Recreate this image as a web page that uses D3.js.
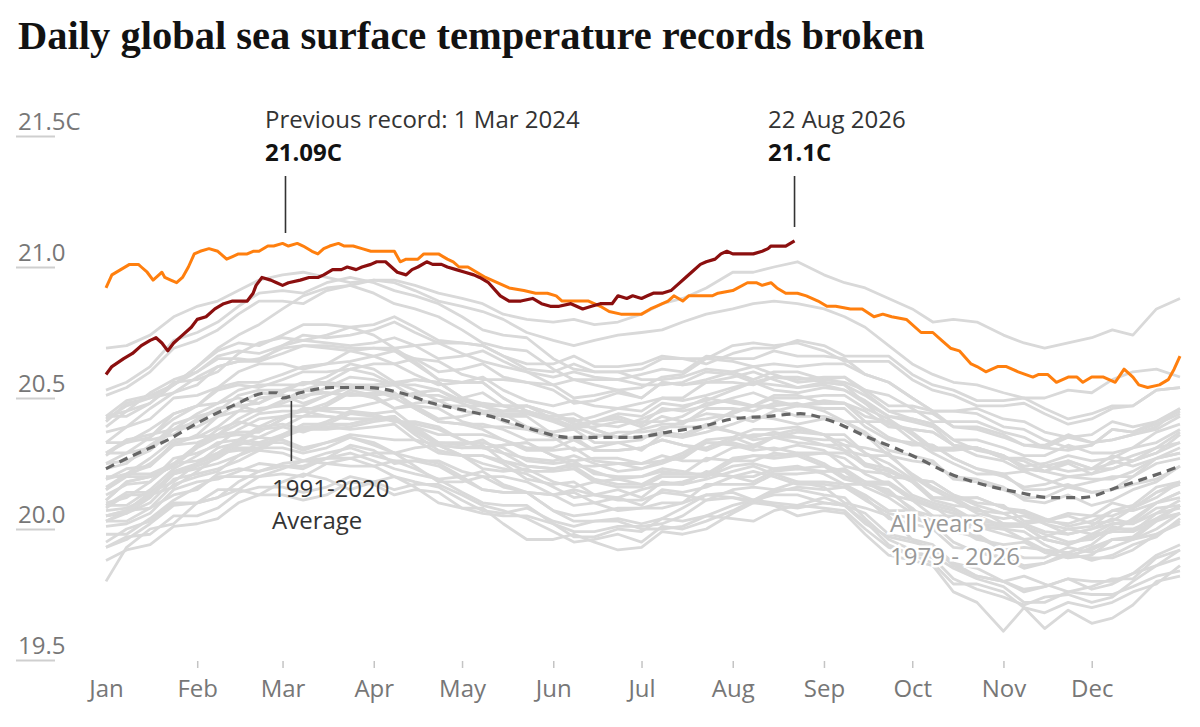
<!DOCTYPE html>
<html><head><meta charset="utf-8">
<script src="https://cdn.jsdelivr.net/npm/d3@7"></script>
<style>
body{margin:0;background:#fff;}
svg{display:block;font-family:"Open Sans",sans-serif;}
</style></head><body>
<svg id="chart" width="1200" height="727"></svg>
<script>
const titleText = "Daily global sea surface temperature records broken";
const monthLabels = ["Jan","Feb","Mar","Apr","May","Jun","Jul","Aug","Sep","Oct","Nov","Dec"];
const monthStartDays = [0,31,60,91,121,152,182,213,244,274,305,335];
const yTicks = [19.5,20.0,20.5,21.0,21.5];
const yTickLabels = ["19.5","20.0","20.5","21.0","21.5C"];

// day-of-year sample grid for the grey years
const gridDays = [0,7,15,23,31,38,45,52,60,67,75,83,91,98,105,113,121,128,135,143,152,159,166,174,182,189,196,204,213,220,227,235,244,251,258,266,274,281,288,296,305,312,319,327,335,342,349,357,365];
const grayYears = [1979,1980,1981,1982,1983,1984,1985,1986,1987,1988,1989,1990,1991,1992,1993,1994,1995,1996,1997,1998,1999,2000,2001,2002,2003,2004,2005,2006,2007,2008,2009,2010,2011,2012,2013,2014,2015,2016,2017,2018,2019,2020,2021,2022,2023,2025];
const grayValues = [
[19.80,19.93,20.00,20.02,20.10,20.15,20.15,20.13,20.18,20.21,20.19,20.15,20.18,20.20,20.16,20.10,20.08,20.08,20.02,19.96,19.96,19.98,19.95,19.92,19.93,19.99,19.98,20.00,20.06,20.10,20.09,20.05,20.07,20.06,19.98,19.90,19.88,19.86,19.76,19.72,19.61,19.70,19.62,19.69,19.64,19.66,19.71,19.80,19.82],
[20.01,20.02,20.06,20.15,20.18,20.19,20.22,20.25,20.24,20.23,20.27,20.29,20.26,20.23,20.21,20.19,20.14,20.10,20.09,20.09,20.02,19.99,19.99,20.01,20.01,20.02,20.05,20.11,20.12,20.11,20.15,20.15,20.13,20.12,20.04,19.96,19.92,19.89,19.81,19.77,19.74,19.71,19.74,19.75,19.72,19.74,19.80,19.86,19.89],
[19.93,19.97,19.98,20.05,20.05,20.08,20.14,20.16,20.16,20.14,20.16,20.20,20.18,20.15,20.17,20.17,20.13,20.09,20.07,20.04,19.99,19.95,19.96,19.98,19.95,20.01,20.00,20.03,20.07,20.11,20.10,20.09,20.12,20.09,20.03,19.94,19.90,19.87,19.79,19.79,19.76,19.70,19.68,19.72,19.70,19.72,19.76,19.79,19.86],
[20.03,20.03,20.08,20.13,20.15,20.21,20.23,20.22,20.25,20.26,20.25,20.24,20.24,20.26,20.23,20.19,20.20,20.22,20.17,20.14,20.13,20.14,20.10,20.07,20.08,20.10,20.10,20.17,20.17,20.17,20.21,20.21,20.22,20.22,20.18,20.14,20.08,20.01,19.99,19.98,19.92,19.93,19.92,19.91,19.94,20.00,20.00,20.04,20.09],
[20.11,20.18,20.20,20.24,20.32,20.38,20.41,20.39,20.43,20.45,20.43,20.42,20.42,20.42,20.36,20.30,20.28,20.28,20.25,20.19,20.17,20.18,20.13,20.11,20.11,20.14,20.13,20.11,20.15,20.16,20.15,20.18,20.16,20.10,20.08,20.05,19.96,19.91,19.87,19.82,19.80,19.82,19.79,19.76,19.78,19.81,19.81,19.89,19.92],
[19.93,19.96,20.02,20.09,20.10,20.12,20.15,20.20,20.21,20.20,20.25,20.27,20.24,20.20,20.18,20.16,20.11,20.07,20.06,20.08,20.03,20.01,20.03,20.03,20.00,20.00,20.01,20.05,20.04,20.03,20.07,20.09,20.08,20.07,20.00,19.93,19.90,19.90,19.85,19.81,19.78,19.72,19.72,19.76,19.75,19.75,19.78,19.82,19.84],
[19.88,19.92,19.94,20.01,20.02,20.04,20.10,20.13,20.13,20.11,20.13,20.18,20.17,20.13,20.15,20.14,20.08,20.06,20.05,20.05,20.02,19.97,19.97,20.00,19.99,20.04,20.03,20.05,20.09,20.11,20.09,20.08,20.10,20.09,20.06,19.98,19.96,19.94,19.87,19.85,19.80,19.77,19.78,19.81,19.77,19.79,19.83,19.86,19.92],
[19.98,19.98,20.04,20.11,20.16,20.20,20.20,20.20,20.23,20.26,20.27,20.27,20.29,20.29,20.24,20.18,20.18,20.20,20.16,20.14,20.13,20.15,20.13,20.12,20.15,20.17,20.17,20.22,20.20,20.20,20.23,20.23,20.24,20.22,20.16,20.12,20.06,20.00,20.00,20.01,19.98,19.96,19.92,19.89,19.90,19.96,19.96,20.00,20.06],
[20.11,20.18,20.20,20.24,20.32,20.36,20.37,20.37,20.42,20.46,20.45,20.44,20.44,20.45,20.39,20.36,20.36,20.36,20.34,20.31,20.31,20.34,20.30,20.30,20.31,20.34,20.32,20.30,20.34,20.36,20.36,20.38,20.36,20.32,20.31,20.29,20.20,20.15,20.11,20.06,20.04,20.05,20.02,19.98,20.00,20.02,20.02,20.08,20.09],
[20.07,20.08,20.12,20.21,20.24,20.27,20.32,20.35,20.34,20.31,20.33,20.35,20.32,20.29,20.27,20.25,20.20,20.15,20.14,20.14,20.07,20.03,20.03,20.04,20.02,20.04,20.08,20.13,20.14,20.11,20.13,20.13,20.10,20.09,20.02,19.97,19.95,19.93,19.86,19.82,19.80,19.76,19.78,19.81,19.80,19.80,19.83,19.90,19.94],
[19.95,20.00,20.03,20.10,20.10,20.12,20.18,20.22,20.24,20.24,20.27,20.32,20.30,20.25,20.26,20.26,20.22,20.20,20.20,20.18,20.13,20.09,20.10,20.12,20.09,20.15,20.14,20.16,20.20,20.22,20.20,20.17,20.17,20.16,20.12,20.04,20.02,20.00,19.93,19.92,19.89,19.86,19.87,19.91,19.88,19.90,19.94,19.97,20.04],
[20.09,20.09,20.15,20.23,20.28,20.33,20.34,20.33,20.36,20.39,20.39,20.40,20.42,20.42,20.38,20.32,20.31,20.32,20.26,20.24,20.23,20.25,20.22,20.19,20.20,20.22,20.21,20.27,20.26,20.26,20.29,20.28,20.29,20.27,20.21,20.17,20.11,20.05,20.05,20.05,20.01,20.01,19.98,19.95,19.96,20.01,19.99,20.03,20.09],
[20.08,20.13,20.13,20.16,20.22,20.28,20.31,20.31,20.36,20.40,20.40,20.40,20.42,20.43,20.37,20.33,20.33,20.33,20.31,20.26,20.25,20.26,20.21,20.20,20.20,20.23,20.22,20.20,20.24,20.25,20.23,20.24,20.21,20.17,20.17,20.17,20.11,20.08,20.06,20.01,20.00,19.99,19.94,19.90,19.92,19.96,19.97,20.04,20.06],
[20.05,20.06,20.10,20.19,20.21,20.23,20.26,20.30,20.29,20.26,20.29,20.31,20.28,20.26,20.26,20.24,20.19,20.15,20.14,20.14,20.07,20.05,20.06,20.08,20.08,20.08,20.10,20.13,20.12,20.10,20.14,20.16,20.15,20.16,20.11,20.06,20.04,20.02,19.95,19.91,19.89,19.85,19.87,19.90,19.89,19.89,19.92,19.98,20.02],
[20.03,20.07,20.08,20.17,20.20,20.22,20.28,20.31,20.31,20.29,20.31,20.35,20.33,20.29,20.31,20.32,20.28,20.25,20.23,20.21,20.16,20.12,20.13,20.15,20.12,20.18,20.17,20.19,20.22,20.24,20.21,20.18,20.18,20.17,20.13,20.07,20.07,20.05,19.99,19.97,19.92,19.89,19.89,19.93,19.91,19.93,19.96,19.98,20.03],
[20.05,20.07,20.14,20.21,20.25,20.31,20.33,20.32,20.35,20.38,20.38,20.39,20.41,20.42,20.39,20.33,20.32,20.34,20.29,20.27,20.26,20.28,20.25,20.22,20.23,20.26,20.27,20.33,20.32,20.30,20.31,20.29,20.29,20.29,20.25,20.23,20.18,20.12,20.12,20.12,20.08,20.06,20.02,20.00,20.01,20.07,20.07,20.10,20.14],
[20.15,20.20,20.20,20.24,20.31,20.35,20.36,20.35,20.39,20.43,20.43,20.42,20.42,20.43,20.37,20.32,20.31,20.31,20.29,20.24,20.23,20.24,20.19,20.17,20.17,20.21,20.21,20.21,20.27,20.28,20.27,20.28,20.24,20.19,20.17,20.15,20.07,20.03,20.01,19.96,19.94,19.95,19.91,19.89,19.93,19.96,19.96,20.03,20.06],
[20.03,20.06,20.12,20.21,20.23,20.25,20.28,20.33,20.33,20.30,20.33,20.36,20.35,20.34,20.34,20.32,20.28,20.23,20.22,20.23,20.18,20.16,20.18,20.19,20.17,20.17,20.18,20.21,20.20,20.18,20.22,20.23,20.22,20.23,20.18,20.13,20.11,20.09,20.03,20.01,20.00,19.96,19.97,20.00,19.98,19.99,20.04,20.10,20.14],
[20.13,20.17,20.18,20.27,20.29,20.32,20.38,20.42,20.43,20.43,20.47,20.52,20.50,20.46,20.48,20.49,20.45,20.44,20.44,20.44,20.41,20.38,20.41,20.44,20.43,20.48,20.47,20.49,20.53,20.56,20.55,20.54,20.56,20.55,20.51,20.45,20.45,20.44,20.39,20.38,20.35,20.32,20.32,20.36,20.33,20.34,20.36,20.38,20.43],
[20.43,20.45,20.52,20.57,20.60,20.65,20.65,20.64,20.67,20.70,20.70,20.69,20.69,20.68,20.63,20.57,20.56,20.56,20.50,20.45,20.42,20.42,20.38,20.35,20.35,20.37,20.36,20.40,20.37,20.34,20.35,20.33,20.32,20.30,20.24,20.22,20.18,20.11,20.09,20.08,20.02,20.02,19.99,19.98,20.00,20.04,20.02,20.06,20.11],
[20.09,20.14,20.14,20.18,20.25,20.29,20.30,20.30,20.35,20.39,20.39,20.38,20.39,20.40,20.34,20.29,20.28,20.28,20.26,20.22,20.22,20.23,20.18,20.16,20.16,20.20,20.20,20.20,20.26,20.28,20.28,20.29,20.25,20.20,20.18,20.18,20.12,20.09,20.07,20.02,20.01,20.01,19.96,19.94,19.98,20.02,20.03,20.10,20.12],
[20.10,20.12,20.18,20.25,20.26,20.29,20.34,20.39,20.40,20.38,20.41,20.45,20.44,20.41,20.40,20.38,20.34,20.31,20.32,20.33,20.28,20.24,20.24,20.25,20.23,20.25,20.28,20.33,20.33,20.31,20.35,20.35,20.32,20.32,20.25,20.20,20.19,20.18,20.13,20.09,20.06,20.02,20.03,20.06,20.05,20.05,20.08,20.14,20.18],
[20.19,20.23,20.24,20.33,20.35,20.36,20.40,20.44,20.45,20.45,20.48,20.53,20.51,20.46,20.47,20.46,20.41,20.39,20.39,20.38,20.35,20.30,20.31,20.33,20.30,20.36,20.35,20.37,20.40,20.43,20.42,20.40,20.42,20.41,20.37,20.30,20.28,20.26,20.19,20.18,20.15,20.12,20.12,20.16,20.14,20.15,20.17,20.19,20.24],
[20.23,20.25,20.32,20.38,20.41,20.46,20.47,20.48,20.53,20.56,20.56,20.55,20.55,20.56,20.53,20.49,20.50,20.52,20.47,20.44,20.43,20.44,20.40,20.39,20.42,20.45,20.46,20.50,20.48,20.47,20.50,20.50,20.51,20.51,20.46,20.42,20.36,20.30,20.30,20.31,20.27,20.26,20.22,20.20,20.21,20.26,20.24,20.27,20.31],
[20.28,20.34,20.36,20.38,20.44,20.48,20.50,20.48,20.52,20.56,20.55,20.54,20.54,20.55,20.50,20.47,20.47,20.47,20.44,20.39,20.37,20.38,20.33,20.33,20.34,20.39,20.39,20.39,20.45,20.47,20.47,20.48,20.45,20.41,20.41,20.41,20.34,20.29,20.25,20.21,20.21,20.22,20.19,20.16,20.18,20.20,20.20,20.27,20.29],
[20.25,20.26,20.30,20.38,20.39,20.43,20.48,20.52,20.51,20.48,20.51,20.54,20.53,20.51,20.51,20.51,20.48,20.44,20.43,20.43,20.36,20.34,20.35,20.37,20.37,20.38,20.41,20.44,20.43,20.41,20.45,20.47,20.46,20.46,20.39,20.34,20.33,20.32,20.27,20.23,20.20,20.16,20.17,20.20,20.19,20.19,20.22,20.27,20.29],
[20.29,20.33,20.35,20.44,20.47,20.48,20.53,20.55,20.55,20.55,20.58,20.63,20.61,20.56,20.57,20.56,20.50,20.47,20.45,20.45,20.42,20.39,20.41,20.42,20.39,20.43,20.41,20.42,20.44,20.47,20.46,20.43,20.43,20.41,20.36,20.28,20.26,20.25,20.20,20.19,20.16,20.11,20.10,20.13,20.09,20.11,20.15,20.18,20.24],
[20.20,20.20,20.25,20.32,20.36,20.43,20.45,20.45,20.48,20.51,20.52,20.51,20.52,20.52,20.47,20.42,20.43,20.45,20.41,20.38,20.37,20.39,20.36,20.35,20.38,20.40,20.40,20.46,20.46,20.45,20.48,20.47,20.48,20.48,20.43,20.41,20.37,20.31,20.31,20.31,20.27,20.27,20.24,20.22,20.23,20.28,20.26,20.29,20.33],
[20.29,20.34,20.34,20.36,20.42,20.46,20.47,20.45,20.49,20.53,20.52,20.51,20.51,20.52,20.46,20.41,20.40,20.38,20.34,20.30,20.30,20.31,20.26,20.25,20.25,20.28,20.26,20.26,20.31,20.32,20.30,20.32,20.30,20.24,20.22,20.21,20.13,20.10,20.08,20.03,20.02,20.01,19.96,19.94,19.97,19.99,19.99,20.06,20.08],
[20.05,20.07,20.13,20.22,20.25,20.28,20.33,20.38,20.39,20.37,20.40,20.44,20.43,20.41,20.41,20.39,20.34,20.31,20.32,20.33,20.28,20.26,20.27,20.27,20.25,20.26,20.29,20.34,20.35,20.32,20.35,20.37,20.36,20.36,20.29,20.22,20.19,20.18,20.13,20.10,20.09,20.03,20.03,20.05,20.02,20.03,20.08,20.14,20.17],
[20.15,20.21,20.24,20.32,20.33,20.36,20.42,20.46,20.47,20.47,20.51,20.55,20.53,20.50,20.52,20.53,20.49,20.47,20.47,20.47,20.44,20.41,20.43,20.46,20.45,20.50,20.49,20.51,20.54,20.56,20.53,20.52,20.54,20.53,20.49,20.43,20.42,20.40,20.34,20.34,20.31,20.28,20.28,20.32,20.29,20.29,20.31,20.33,20.38],
[20.37,20.39,20.46,20.52,20.55,20.62,20.64,20.65,20.69,20.70,20.69,20.68,20.69,20.69,20.64,20.57,20.56,20.56,20.50,20.45,20.42,20.42,20.38,20.35,20.35,20.36,20.35,20.39,20.37,20.35,20.37,20.35,20.34,20.34,20.29,20.25,20.19,20.12,20.11,20.12,20.08,20.07,20.03,20.02,20.05,20.10,20.08,20.12,20.18],
[20.16,20.21,20.21,20.25,20.32,20.36,20.37,20.37,20.42,20.46,20.46,20.46,20.48,20.50,20.46,20.41,20.40,20.40,20.38,20.34,20.34,20.35,20.30,20.30,20.31,20.34,20.32,20.31,20.35,20.38,20.38,20.39,20.36,20.30,20.28,20.28,20.21,20.16,20.12,20.07,20.06,20.07,20.04,20.01,20.03,20.07,20.09,20.16,20.18],
[20.19,20.21,20.27,20.34,20.35,20.39,20.45,20.50,20.51,20.50,20.54,20.58,20.57,20.55,20.55,20.53,20.48,20.45,20.45,20.47,20.42,20.39,20.39,20.41,20.41,20.41,20.43,20.48,20.49,20.47,20.51,20.51,20.48,20.48,20.41,20.35,20.32,20.32,20.27,20.23,20.21,20.15,20.15,20.17,20.14,20.15,20.20,20.25,20.27],
[20.25,20.29,20.31,20.40,20.43,20.45,20.51,20.53,20.53,20.53,20.56,20.61,20.59,20.55,20.57,20.56,20.50,20.48,20.47,20.47,20.44,20.40,20.41,20.43,20.40,20.46,20.45,20.47,20.50,20.52,20.49,20.47,20.49,20.48,20.45,20.39,20.38,20.37,20.32,20.31,20.28,20.23,20.22,20.26,20.23,20.25,20.28,20.31,20.37],
[20.33,20.33,20.38,20.44,20.47,20.54,20.56,20.56,20.59,20.62,20.63,20.64,20.66,20.68,20.65,20.60,20.61,20.63,20.58,20.56,20.55,20.57,20.55,20.53,20.54,20.58,20.59,20.65,20.64,20.62,20.63,20.62,20.63,20.63,20.59,20.56,20.50,20.45,20.45,20.44,20.39,20.38,20.34,20.31,20.32,20.38,20.37,20.41,20.46],
[20.41,20.48,20.50,20.52,20.58,20.62,20.64,20.64,20.70,20.74,20.73,20.74,20.76,20.79,20.75,20.71,20.71,20.70,20.66,20.63,20.63,20.66,20.62,20.62,20.63,20.66,20.65,20.63,20.67,20.69,20.69,20.72,20.70,20.66,20.66,20.66,20.59,20.55,20.53,20.49,20.49,20.50,20.46,20.42,20.44,20.47,20.47,20.53,20.54],
[20.53,20.56,20.62,20.72,20.75,20.79,20.85,20.90,20.91,20.90,20.94,20.96,20.94,20.91,20.89,20.86,20.81,20.76,20.74,20.73,20.65,20.61,20.60,20.60,20.57,20.57,20.58,20.61,20.60,20.57,20.60,20.60,20.57,20.58,20.52,20.45,20.42,20.40,20.34,20.30,20.28,20.24,20.25,20.28,20.26,20.27,20.31,20.37,20.40],
[20.39,20.45,20.48,20.56,20.57,20.60,20.67,20.71,20.73,20.72,20.74,20.77,20.74,20.69,20.70,20.71,20.67,20.64,20.62,20.60,20.55,20.50,20.51,20.53,20.50,20.56,20.55,20.56,20.58,20.60,20.57,20.54,20.55,20.53,20.48,20.40,20.38,20.37,20.32,20.31,20.28,20.23,20.22,20.25,20.21,20.23,20.26,20.29,20.36],
[20.29,20.29,20.35,20.42,20.47,20.53,20.55,20.54,20.57,20.60,20.60,20.61,20.63,20.63,20.59,20.55,20.56,20.58,20.53,20.49,20.47,20.49,20.47,20.46,20.48,20.50,20.50,20.56,20.56,20.55,20.58,20.57,20.58,20.58,20.53,20.51,20.46,20.41,20.41,20.41,20.37,20.35,20.31,20.30,20.32,20.38,20.37,20.40,20.44],
[20.43,20.49,20.51,20.55,20.62,20.68,20.71,20.70,20.74,20.78,20.78,20.77,20.78,20.81,20.77,20.72,20.71,20.70,20.66,20.61,20.60,20.63,20.60,20.60,20.61,20.65,20.65,20.65,20.70,20.71,20.70,20.71,20.68,20.64,20.64,20.64,20.57,20.53,20.51,20.47,20.47,20.48,20.44,20.40,20.42,20.46,20.47,20.53,20.54],
[20.51,20.54,20.60,20.69,20.72,20.76,20.82,20.87,20.87,20.86,20.91,20.93,20.90,20.86,20.84,20.81,20.76,20.71,20.69,20.68,20.61,20.57,20.57,20.57,20.55,20.55,20.56,20.60,20.59,20.56,20.58,20.58,20.56,20.55,20.48,20.43,20.41,20.39,20.32,20.28,20.26,20.22,20.24,20.26,20.23,20.23,20.26,20.31,20.33],
[20.33,20.39,20.42,20.50,20.51,20.54,20.60,20.63,20.63,20.61,20.63,20.68,20.66,20.63,20.65,20.64,20.59,20.57,20.57,20.56,20.53,20.48,20.49,20.52,20.50,20.56,20.55,20.57,20.60,20.62,20.59,20.56,20.57,20.56,20.53,20.47,20.47,20.45,20.39,20.39,20.36,20.32,20.31,20.35,20.33,20.34,20.36,20.39,20.46],
[20.43,20.43,20.48,20.55,20.60,20.66,20.68,20.67,20.70,20.72,20.71,20.70,20.71,20.73,20.70,20.65,20.66,20.68,20.64,20.60,20.58,20.60,20.58,20.57,20.59,20.61,20.60,20.66,20.65,20.65,20.68,20.66,20.66,20.65,20.59,20.56,20.50,20.45,20.45,20.46,20.42,20.41,20.37,20.35,20.36,20.41,20.39,20.41,20.45],
[20.42,20.47,20.50,20.55,20.62,20.69,20.74,20.78,20.84,20.89,20.92,20.93,20.95,20.95,20.93,20.90,20.88,20.86,20.82,20.80,20.79,20.80,20.78,20.79,20.82,20.86,20.88,20.92,20.98,20.98,21.00,21.02,20.97,20.94,20.92,20.88,20.84,20.79,20.80,20.79,20.74,20.71,20.69,20.71,20.73,20.76,20.74,20.84,20.88],
[20.69,20.70,20.74,20.81,20.85,20.87,20.91,20.95,20.97,20.98,20.96,20.94,20.95,20.94,20.91,20.87,20.85,20.83,20.80,20.75,20.72,20.70,20.72,20.74,20.75,20.76,20.79,20.82,20.84,20.86,20.87,20.86,20.84,20.81,20.77,20.70,20.63,20.59,20.56,20.55,20.52,20.50,20.50,20.53,20.52,20.57,20.60,20.61,20.58]
];

// 1991-2020 average
const avgDays = [0,9,21,32,43,55,58,60,66,77,89,100,111,123,134,145,157,168,179,191,202,213,225,236,247,259,270,276,287,298,310,321,332,344,355,365];
const avgValues = [20.23,20.28,20.34,20.41,20.47,20.52,20.52,20.50,20.52,20.54,20.54,20.52,20.48,20.45,20.42,20.38,20.35,20.35,20.35,20.37,20.39,20.42,20.43,20.44,20.41,20.35,20.30,20.27,20.21,20.17,20.14,20.12,20.12,20.16,20.20,20.24];

// 2024 (previous record year)
const days2024 = [0,2,5,8,11,12,14,16,18,19,20,22,24,26,28,30,32,35,38,41,43,45,48,50,52,55,57,60,62,65,67,70,72,74,76,79,81,84,87,90,92,94,98,100,102,106,108,111,113,116,118,120,123,126,129,133,137,142,146,150,153,155,158,161,164,168,171,175,179,182,185,187,191,193,196,198,201,206,208,213,218,221,223,226,228,231,235,238,242,245,248,253,257,261,264,267,272,277,281,284,287,290,294,296,299,303,306,310,315,317,320,323,327,330,332,335,339,343,346,349,351,354,358,361,363,365];
const values2024 = [20.92,20.97,20.99,21.01,21.01,21.00,20.98,20.95,20.97,20.98,20.96,20.95,20.94,20.96,21.00,21.05,21.06,21.07,21.06,21.03,21.04,21.05,21.05,21.06,21.06,21.08,21.08,21.09,21.08,21.09,21.08,21.06,21.05,21.07,21.08,21.09,21.08,21.08,21.07,21.06,21.06,21.06,21.06,21.02,21.03,21.03,21.05,21.05,21.05,21.03,21.02,21.00,21.00,20.98,20.96,20.94,20.92,20.91,20.90,20.90,20.89,20.87,20.87,20.87,20.87,20.85,20.83,20.82,20.82,20.82,20.84,20.85,20.87,20.89,20.87,20.89,20.89,20.89,20.90,20.91,20.94,20.94,20.93,20.94,20.92,20.90,20.90,20.89,20.87,20.85,20.85,20.84,20.84,20.81,20.82,20.81,20.80,20.75,20.75,20.72,20.69,20.68,20.63,20.62,20.60,20.62,20.62,20.60,20.58,20.59,20.59,20.56,20.58,20.58,20.56,20.58,20.58,20.56,20.61,20.58,20.55,20.54,20.55,20.57,20.61,20.66];

// 2026 (to 22 Aug)
const days2026 = [0,2,6,9,12,15,17,19,21,23,26,29,31,34,37,40,43,46,48,50,51,53,56,58,60,62,66,69,72,74,77,80,82,85,87,90,92,95,97,99,102,104,106,109,111,114,116,119,122,125,127,130,134,137,141,145,148,151,154,158,162,165,168,172,174,177,179,182,184,186,189,192,194,197,199,202,204,207,209,211,213,217,220,223,225,226,229,231,234];
const values2026 = [20.59,20.62,20.65,20.67,20.70,20.72,20.73,20.71,20.68,20.71,20.74,20.77,20.80,20.81,20.84,20.86,20.87,20.87,20.87,20.90,20.93,20.96,20.95,20.94,20.93,20.94,20.95,20.96,20.96,20.97,20.99,20.99,21.00,20.99,21.00,21.01,21.02,21.02,21.00,20.98,20.97,20.99,21.00,21.02,21.01,21.01,21.00,20.99,20.98,20.97,20.96,20.94,20.89,20.87,20.87,20.88,20.86,20.85,20.85,20.86,20.84,20.85,20.86,20.86,20.89,20.88,20.89,20.88,20.89,20.90,20.90,20.91,20.93,20.96,20.98,21.01,21.02,21.03,21.05,21.06,21.05,21.05,21.05,21.06,21.07,21.08,21.08,21.08,21.10];

const svg = d3.select("#chart");
const x = d3.scaleLinear().domain([0, 365]).range([106, 1180]);
const y = d3.scaleLinear().domain([19.5, 21.5]).range([660, 136]);

// title
const title = svg.append("text").attr("x", 18).attr("y", 49)
  .attr("font-family", "'Liberation Serif', 'DejaVu Serif', serif")
  .attr("font-weight", 700).attr("font-size", 40).attr("fill", "#121212")
  .text(titleText);
const tw = title.node().getComputedTextLength();
title.attr("font-size", 40 * 907 / tw);

// y axis
const yAxis = svg.append("g").attr("transform", "translate(16,0)")
  .call(d3.axisRight(y).tickValues(yTicks).tickSize(39).tickFormat((d, i) => yTickLabels[i]));
yAxis.select(".domain").remove();
yAxis.selectAll(".tick line").attr("stroke", "#cfcfcf").attr("stroke-width", 2);
yAxis.selectAll(".tick text").attr("x", 2).attr("y", -7).attr("dy", 0)
  .attr("text-anchor", "start").attr("font-family", "'Open Sans', sans-serif")
  .attr("font-size", 24).attr("fill", "#777");

// x axis
const xAxis = svg.append("g").attr("transform", "translate(0,661)")
  .call(d3.axisBottom(x).tickValues(monthStartDays).tickSize(7).tickFormat((d, i) => monthLabels[i]));
xAxis.select(".domain").remove();
xAxis.selectAll(".tick line").attr("stroke", "#c4c4c4").attr("stroke-width", 1.5)
  .attr("opacity", d => d === 0 ? 0 : 1);
xAxis.selectAll(".tick text").attr("y", 36).attr("dy", 0)
  .attr("font-family", "'Open Sans', sans-serif").attr("font-size", 24).attr("fill", "#777");

const line = d3.line().x(d => x(d[0])).y(d => y(d[1])).curve(d3.curveLinear);

// grey years
svg.append("g").selectAll("path").data(grayValues).join("path")
  .attr("d", vals => line(vals.map((v, i) => [gridDays[i], v]).filter(p => p[0] !== undefined)))
  .attr("fill", "none").attr("stroke", "#d9d9d9").attr("stroke-width", 2.8)
  .attr("stroke-linejoin", "round");

// average
svg.append("path")
  .attr("d", d3.line().x(d => x(d[0])).y(d => y(d[1])).curve(d3.curveMonotoneX)(avgDays.map((d, i) => [d, avgValues[i]])))
  .attr("fill", "none").attr("stroke", "#666").attr("stroke-width", 3.2)
  .attr("stroke-dasharray", "9,6");

// 2024
svg.append("path")
  .attr("d", line(days2024.map((d, i) => [d, values2024[i]])))
  .attr("fill", "none").attr("stroke", "#ff7f0e").attr("stroke-width", 3)
  .attr("stroke-linejoin", "round");

// 2026
svg.append("path")
  .attr("d", line(days2026.map((d, i) => [d, values2026[i]])))
  .attr("fill", "none").attr("stroke", "#8b0f0f").attr("stroke-width", 3.2)
  .attr("stroke-linejoin", "round");

// annotations
const ann = svg.append("g").attr("font-family", "'Open Sans', sans-serif").attr("font-size", 24);
function leader(xv, y1, y2) {
  ann.append("line").attr("x1", xv).attr("x2", xv).attr("y1", y1).attr("y2", y2)
    .attr("stroke", "#333").attr("stroke-width", 1.6);
}
ann.append("text").attr("x", 265).attr("y", 128).attr("fill", "#333").text("Previous record: 1 Mar 2024");
ann.append("text").attr("x", 265).attr("y", 161).attr("fill", "#121212").attr("font-weight", 700).text("21.09C");
leader(x(61), 176, 233);

ann.append("text").attr("x", 768).attr("y", 128).attr("fill", "#333").text("22 Aug 2026");
ann.append("text").attr("x", 768).attr("y", 161).attr("fill", "#121212").attr("font-weight", 700).text("21.1C");
leader(x(234), 176, 227);

leader(x(63), 401, 461);
ann.append("text").attr("x", 272).attr("y", 497).attr("fill", "#333").text("1991-2020");
ann.append("text").attr("x", 272).attr("y", 529).attr("fill", "#333").text("Average");

ann.append("text").attr("x", 890).attr("y", 532).attr("fill", "#999")
  .attr("stroke", "#fff").attr("stroke-width", 5).attr("paint-order", "stroke").text("All years");
ann.append("text").attr("x", 890).attr("y", 565).attr("fill", "#999")
  .attr("stroke", "#fff").attr("stroke-width", 5).attr("paint-order", "stroke").text("1979 - 2026");
</script>
</body></html>
